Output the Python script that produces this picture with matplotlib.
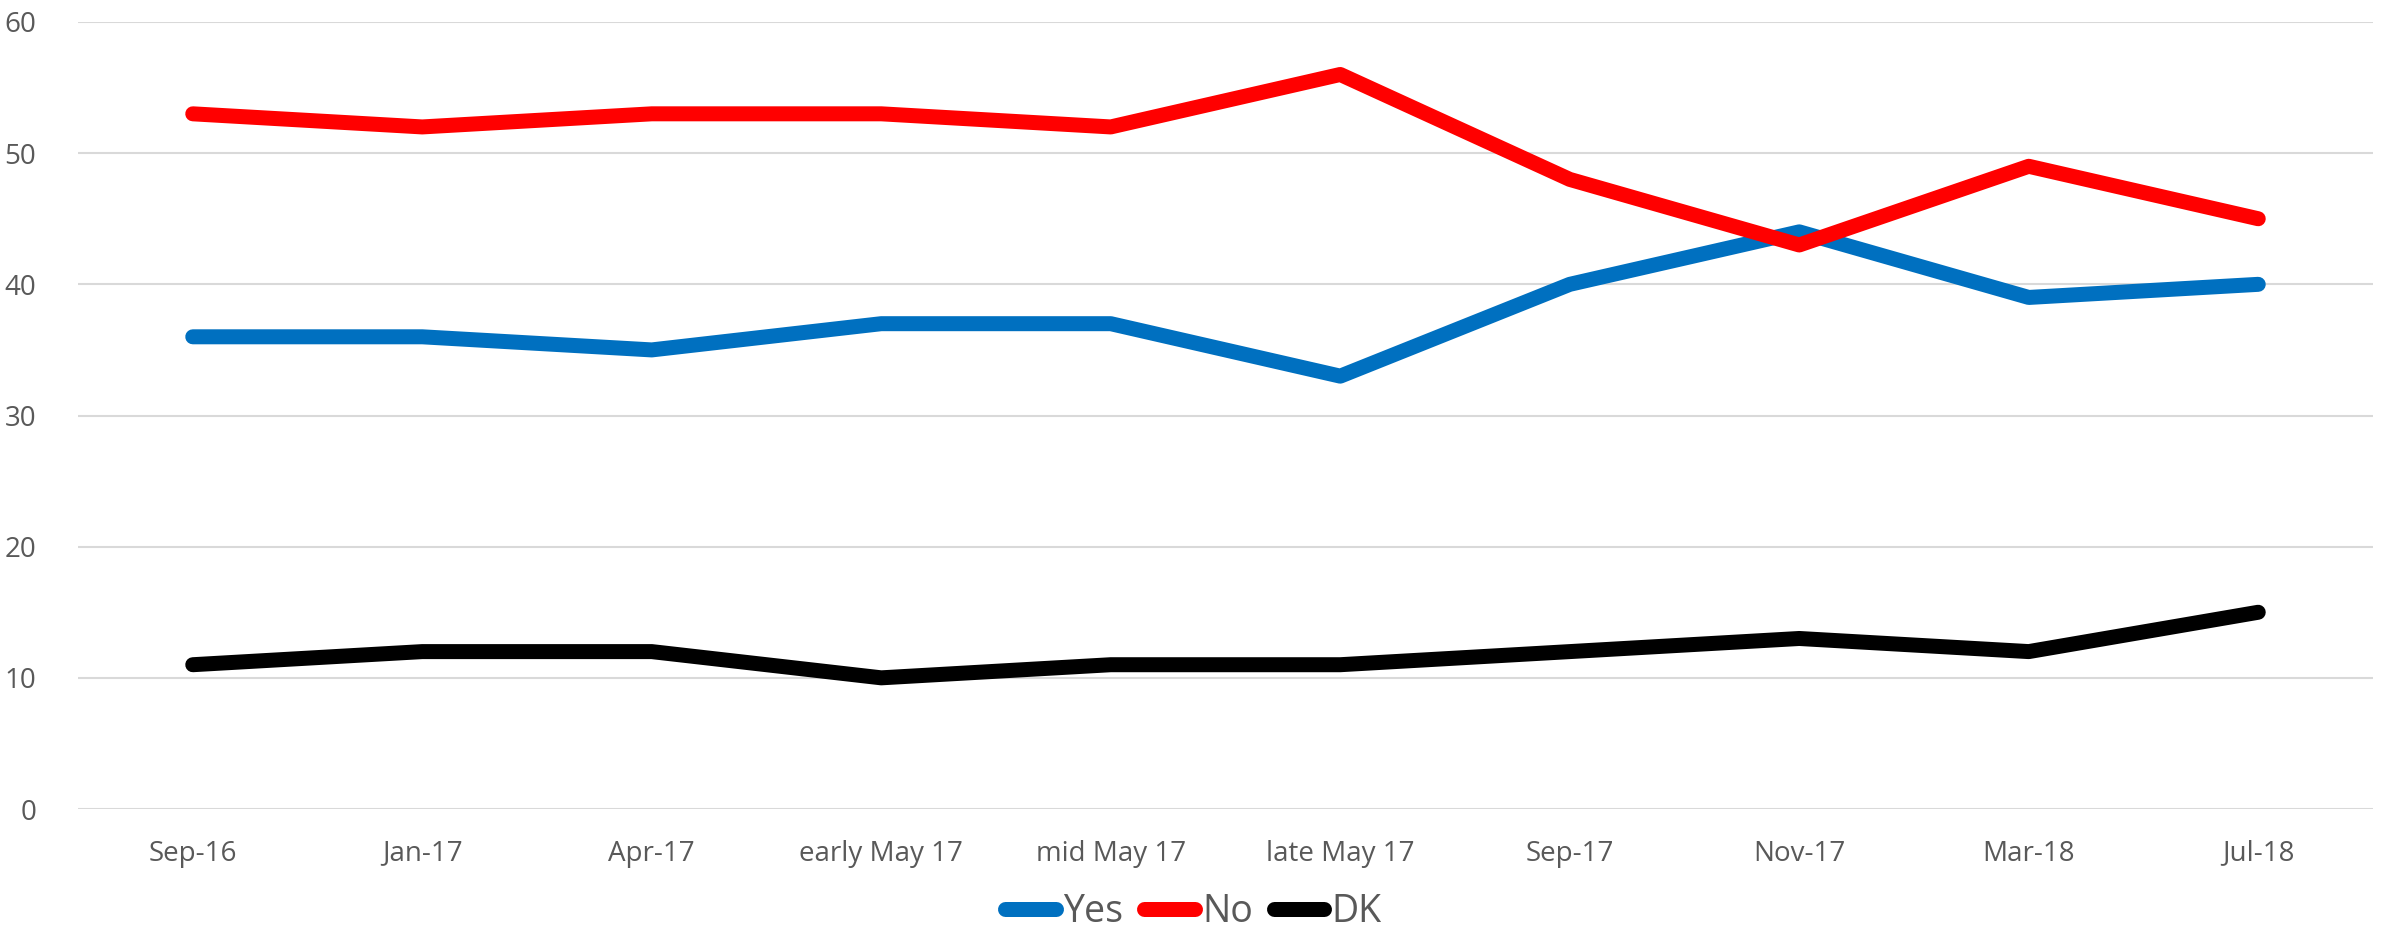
import matplotlib
matplotlib.use("Agg")
import matplotlib.pyplot as plt

categories = ["Sep-16", "Jan-17", "Apr-17", "early May 17", "mid May 17",
              "late May 17", "Sep-17", "Nov-17", "Mar-18", "Jul-18"]
yes = [36, 36, 35, 37, 37, 33, 40, 44, 39, 40]
no = [53, 52, 53, 53, 52, 56, 48, 43, 49, 45]
dk = [11, 12, 12, 10, 11, 11, 12, 13, 12, 15]

plt.rcParams['font.family'] = ['Open Sans', 'DejaVu Sans']
fig = plt.figure(figsize=(23.87, 9.35), dpi=100)
ax = fig.add_axes([78/2387, 1 - 809/935, (2373-78)/2387, (809-22)/935])

x = list(range(len(categories)))
for vals, col, lab in [(yes, "#0070C0", "Yes"), (no, "#FF0000", "No"), (dk, "#000000", "DK")]:
    ax.plot(x, vals, color=col, lw=10.8, solid_capstyle="round", solid_joinstyle="round", label=lab)

ax.set_xlim(-0.5, len(categories) - 0.5)
ax.set_ylim(0, 60)
ax.set_yticks(range(0, 61, 10))
ax.set_xticks(x)
ax.set_xticklabels(categories)
ax.grid(axis="y", color="#D9D9D9", lw=1.5)
ax.set_axisbelow(True)
for s in ax.spines.values():
    s.set_visible(False)
ax.tick_params(axis="both", length=0, colors="#595959", labelsize=20)
ax.tick_params(axis="x", pad=22)
ax.tick_params(axis="y", pad=30)

leg = fig.legend(loc="lower center", bbox_to_anchor=(0.5, -0.032), ncol=3, frameon=False,
                 fontsize=27, handlelength=1.35, handletextpad=0.2, columnspacing=0.55,
                 labelcolor="#595959")
plt.savefig("out.png", dpi=100)
